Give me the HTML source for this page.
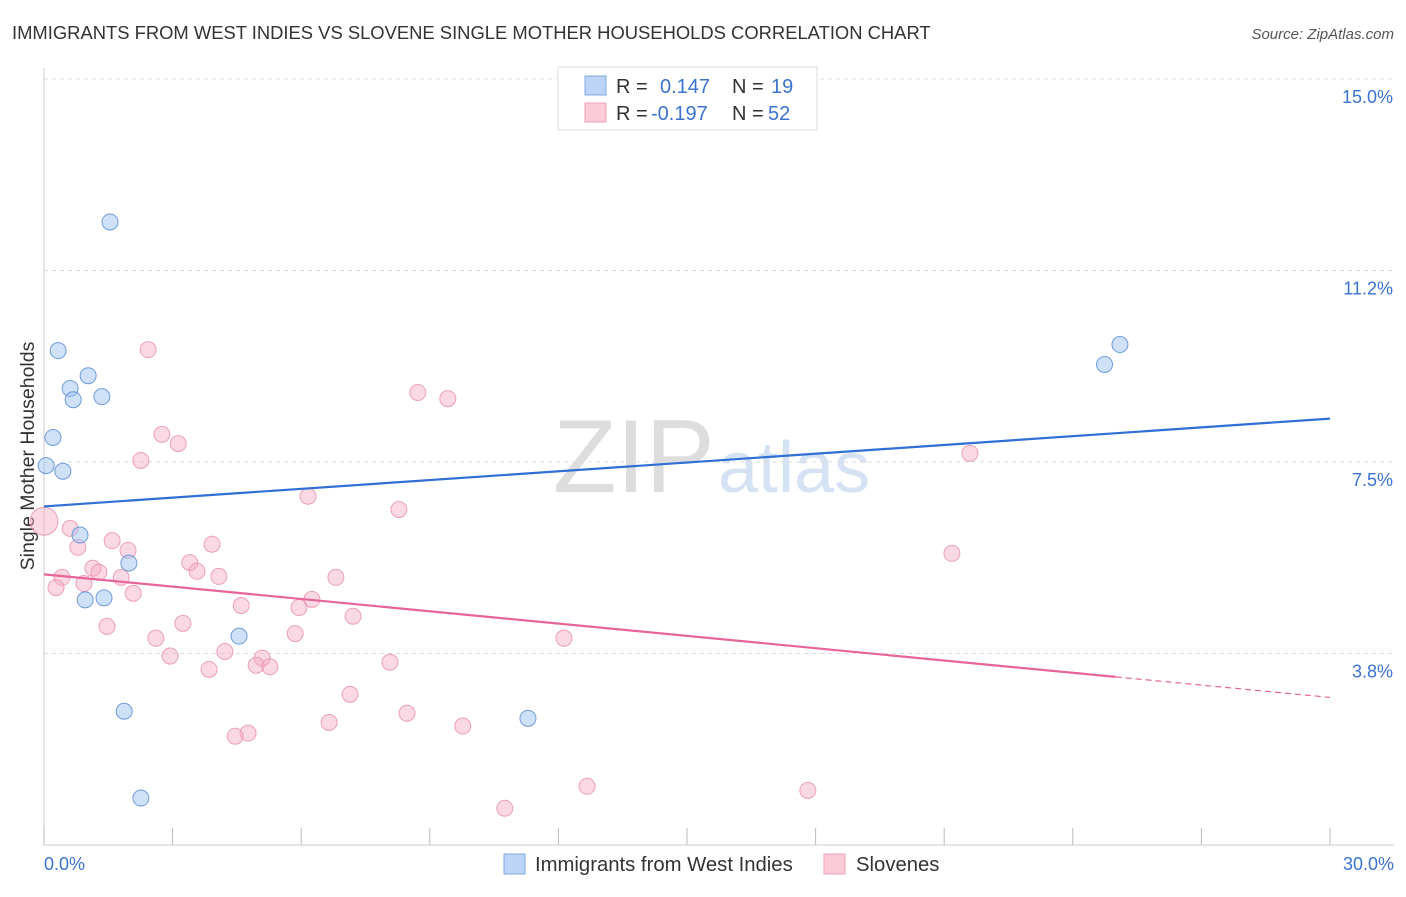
<!DOCTYPE html>
<html><head><meta charset="utf-8"><style>
body{margin:0;background:#fff;width:1406px;height:892px;overflow:hidden;font-family:"Liberation Sans",sans-serif}
svg text{font-family:"Liberation Sans",sans-serif}
</style></head><body>
<svg id="c" width="1406" height="892">
<text x="12" y="39" font-size="18.4" fill="#333">IMMIGRANTS FROM WEST INDIES VS SLOVENE SINGLE MOTHER HOUSEHOLDS CORRELATION CHART</text>
<text x="1394" y="39" font-size="15" fill="#555" text-anchor="end" font-style="italic">Source: ZipAtlas.com</text>
<text x="0" y="0" transform="translate(34,456) rotate(-90)" font-size="19.5" fill="#333" text-anchor="middle">Single Mother Households</text>
<text x="553" y="492" font-size="104" fill="#ddd" font-family="Liberation Serif">ZIP</text>
<text x="718" y="492" font-size="72" fill="#d5e2f3">atlas</text>
<g id="grid"></g><g id="pts"></g><g id="lines"></g>
<g>
<rect x="558" y="67" width="259" height="63" fill="#fff" stroke="#ddd"/>
<rect x="585" y="76" width="21" height="19" fill="#bcd4f5" stroke="#7ea8e0"/>
<rect x="585" y="103" width="21" height="19" fill="#fbcbd8" stroke="#eea2b8"/>
<text x="616" y="93" font-size="20" fill="#333">R = <tspan x="660" fill="#3a73d0">0.147</tspan><tspan x="732" fill="#333">N = </tspan><tspan x="771" fill="#3a73d0">19</tspan></text>
<text x="616" y="120" font-size="20" fill="#333">R = <tspan x="651" fill="#3a73d0">-0.197</tspan><tspan x="732" fill="#333">N = </tspan><tspan x="768" fill="#3a73d0">52</tspan></text>
</g>
<g>
<rect x="504" y="854" width="21" height="20" fill="#bcd4f5" stroke="#7ea8e0"/>
<text x="535" y="871" font-size="20.3" fill="#333">Immigrants from West Indies</text>
<rect x="824" y="854" width="21" height="20" fill="#fbcbd8" stroke="#eea2b8"/>
<text x="856" y="871" font-size="20.3" fill="#333">Slovenes</text>
</g>
</svg>
<script>
const yTicks=[3.75,7.5,11.25,15];
const yTickLabels=["3.8%","7.5%","11.2%","15.0%"];
const blueX=[1.54,0.33,1.03,0.61,0.68,1.35,0.21,0.05,0.44,0.84,1.98,0.96,1.40,4.55,1.87,11.29,2.26,25.10,24.74];
const blueY=[12.2,9.68,9.19,8.94,8.72,8.78,7.98,7.43,7.32,6.07,5.52,4.80,4.84,4.09,2.62,2.48,0.92,9.80,9.41];
const pinkX=[2.43,8.72,9.42,2.75,3.13,2.26,21.60,6.16,8.28,0.0,0.61,1.59,0.79,1.96,3.92,21.18,3.40,3.57,1.14,1.28,0.42,1.80,4.08,6.81,0.93,0.28,2.08,6.25,4.60,5.95,7.21,1.47,3.24,2.61,5.86,12.13,2.94,4.22,5.09,4.95,5.27,8.07,3.85,7.14,6.65,8.47,9.77,4.76,4.46,12.67,17.82,10.75];
const pinkY=[9.70,8.86,8.74,8.04,7.86,7.53,7.67,6.83,6.57,6.34,6.20,5.96,5.83,5.77,5.89,5.71,5.53,5.36,5.42,5.34,5.24,5.24,5.26,5.24,5.12,5.04,4.93,4.81,4.69,4.65,4.48,4.28,4.34,4.05,4.14,4.05,3.70,3.79,3.66,3.52,3.49,3.58,3.44,2.95,2.40,2.58,2.33,2.19,2.13,1.15,1.07,0.72];
const blueTrend=[6.63,8.35];
const pinkTrend=[5.30,2.89];
const NS='http://www.w3.org/2000/svg';
const X=v=>44+v*(1286/30), Y=v=>845-v*(766/15);
function mk(t,a,p){const e=document.createElementNS(NS,t);for(const k in a)e.setAttribute(k,a[k]);p.appendChild(e);return e;}
const g=document.getElementById('grid');
yTicks.forEach((t,i)=>{
 const l=mk('line',{x1:44,x2:1394,y1:Y(t),y2:Y(t),stroke:'#ddd','stroke-dasharray':'4 4'},g);
 
 
 const tx=mk('text',{x:1393,y:Y(t)+24,'font-size':18,fill:'#3a73d0','text-anchor':'end'},g);
 tx.textContent=yTickLabels[i];
 
 
});
mk('line',{x1:44,x2:44,y1:68,y2:845,stroke:'#ccc'},g);
mk('line',{x1:44,x2:1394,y1:845,y2:845,stroke:'#ccc'},g);
for(let i=0;i<=10;i++){const t=mk('line',{x1:X(i*3),x2:X(i*3),y1:828,y2:845,stroke:'#bbb'},g);
 
 }
[[0,"0.0%",'start',44],[30,"30.0%",'end',1394]].forEach(d=>{const t=mk('text',{x:d[3],y:870,'font-size':18,fill:'#3a73d0','text-anchor':d[2]},g);t.textContent=d[1];
 
 });
const p=document.getElementById('pts');
pinkX.forEach((x,i)=>{const c=mk('circle',{cx:X(x),cy:Y(pinkY[i]),r:i==9?14:8,fill:'rgba(245,170,195,0.45)',stroke:'rgba(232,140,170,0.8)','stroke-width':1},p);
 
 });
blueX.forEach((x,i)=>{const c=mk('circle',{cx:X(x),cy:Y(blueY[i]),r:8,fill:'rgba(160,195,240,0.5)',stroke:'rgba(90,140,215,0.85)','stroke-width':1},p);
 
 });
const L=document.getElementById('lines');
const bl=mk('line',{x1:X(0),y1:Y(blueTrend[0]),x2:X(30),y2:Y(blueTrend[1]),stroke:'#2f6fd6','stroke-width':2.2},L);


const pf=v=>pinkTrend[0]+(pinkTrend[1]-pinkTrend[0])*v/30;
const pl=mk('line',{x1:X(0),y1:Y(pf(0)),x2:X(25),y2:Y(pf(25)),stroke:'#e8659a','stroke-width':2.2},L);


const pd=mk('line',{x1:X(25),y1:Y(pf(25)),x2:X(30),y2:Y(pf(30)),stroke:'#e8659a','stroke-width':1.2,'stroke-dasharray':'6 4'},L);


</script>
</body></html>
